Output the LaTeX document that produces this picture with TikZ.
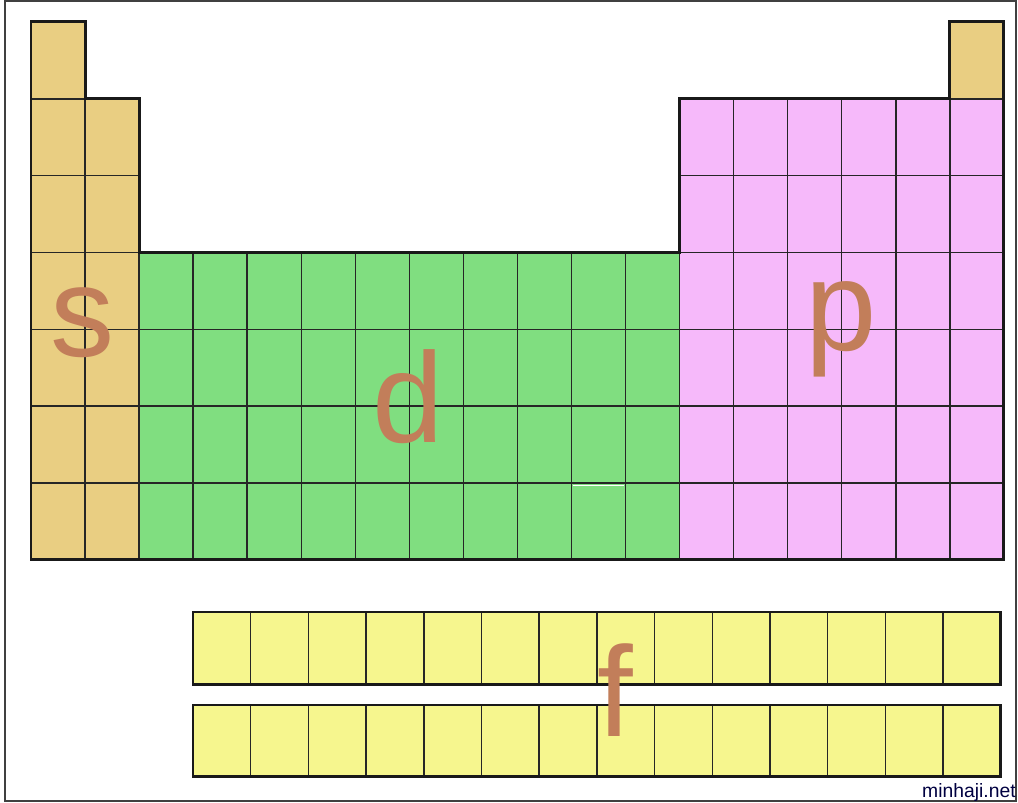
\documentclass[tikz,border=0pt]{standalone}
\usepackage{fontspec}
\setmainfont{Liberation Sans}
\usepackage{tikz}
\definecolor{sBlk}{RGB}{233,206,130}
\definecolor{dBlk}{RGB}{128,222,128}
\definecolor{pBlk}{RGB}{246,185,250}
\definecolor{fBlk}{RGB}{246,246,142}
\definecolor{letBrown}{RGB}{194,126,90}

\begin{document}
\begin{tikzpicture}[
  x=0.02cm, y=-0.02cm,
  cellbox/.style={draw=black!85, line width=0.85pt},
  outline/.style={draw=black!90, line width=1.7pt, line join=miter},
  blocklab/.style={text=letBrown, font=\fontsize{73}{73}\selectfont, anchor=base, inner sep=0pt}
]
  \useasboundingbox (0,0) rectangle (1018,803);
  \draw[black!75, line width=0.9pt] (5,1) rectangle (1016,801);

  % main table, one unit per cell
  \begin{scope}[shift={(31,22)}, x=1.0812cm, y=-1.5372cm]
    \foreach \r in {0,...,6} \draw[cellbox, fill=sBlk] (0,\r) rectangle +(1,1);
    \foreach \r in {1,...,6} \draw[cellbox, fill=sBlk] (1,\r) rectangle +(1,1);
    \draw[cellbox, fill=sBlk] (17,0) rectangle +(1,1);
    \foreach \c in {12,...,17} \foreach \r in {1,...,6}
      \draw[cellbox, fill=pBlk] (\c,\r) rectangle +(1,1);
    \foreach \c in {2,...,11} \foreach \r in {3,...,6}
      \draw[cellbox, fill=dBlk] (\c,\r) rectangle +(1,1);
    \draw[white, line width=0.8pt] (10.03,6.035) -- (10.97,6.035);
    \draw[outline] (0,7) -- (0,0) -- (1,0) -- (1,1) -- (2,1) -- (2,3) -- (12,3)
      -- (12,1) -- (17,1) -- (17,0) -- (18,0) -- (18,7) -- cycle;
  \end{scope}

  % f block rows
  \begin{scope}[shift={(193,612)}, x=1.1543cm, y=-1.46cm]
    \foreach \c in {0,...,13} \draw[cellbox, fill=fBlk] (\c,0) rectangle +(1,1);
    \draw[outline] (0,0) rectangle (14,1);
  \end{scope}
  \begin{scope}[shift={(193,705)}, x=1.1543cm, y=-1.44cm]
    \foreach \c in {0,...,13} \draw[cellbox, fill=fBlk] (\c,0) rectangle +(1,1);
    \draw[outline] (0,0) rectangle (14,1);
  \end{scope}

  \node[blocklab] (sLab) at (83,357) {s};
  \node[blocklab] (dLab) at (408,443) {d};
  \node[blocklab] (pLab) at (841,351) {p};
  \node[blocklab] (fLab) at (615,736) {f};

  \node[anchor=base east, inner sep=0pt, text=black!75!blue, font=\fontsize{11}{11}\selectfont] (site) at (1016,797) {minhaji.net};
\end{tikzpicture}
\end{document}
